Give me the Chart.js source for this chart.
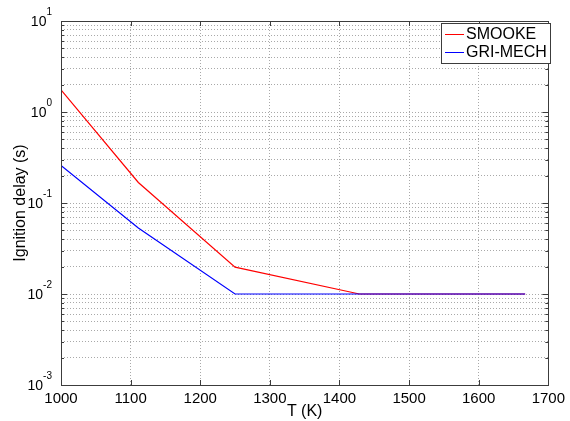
<!DOCTYPE html>
<html>
<head>
<meta charset="utf-8">
<title>Ignition delay</title>
<script src="https://cdn.jsdelivr.net/npm/chart.js@4.4.1/dist/chart.umd.min.js"></script>
<style>
  html, body { margin: 0; padding: 0; background: #fff; }
  #wrap { width: 570px; height: 421px; position: relative; }
</style>
</head>
<body>
<div id="wrap"><canvas id="chart"></canvas></div>
<script>
// temperatures (K) and ignition delays (s)
const temperatures = [1000, 1111.1, 1250, 1428.6, 1666.7];
const smookeDelay = [1.75, 0.168, 0.0197, 0.01, 0.01];
const griMechDelay = [0.258, 0.053, 0.01, 0.01, 0.01];

const xTicks = [1000, 1100, 1200, 1300, 1400, 1500, 1600, 1700];
const yDecades = [-3, -2, -1, 0, 1];

const FONT = "'Liberation Sans', Arial, sans-serif";
const AXIS_COLOR = '#3c3c3c';
const GRID_COLOR = '#a9a9a9';

const toPoints = (xs, ys) => xs.map((x, i) => ({ x: x, y: ys[i] }));

// 1..9 x 10^n grid for the log axis
function logTicks() {
    const ticks = [];
    for (let i = 0; i < yDecades.length; i++) {
        const e = yDecades[i];
        const base = Math.pow(10, e);
        ticks.push({ value: base, major: true, exp: e });
        if (i === yDecades.length - 1) break;
        for (let m = 2; m <= 9; m++) {
            ticks.push({ value: m * base, major: false });
        }
    }
    return ticks;
}

// axes box, inner tick marks, 10^n labels and legend box
const matlabFrame = {
    id: 'matlabFrame',
    afterDraw(chart) {
        const { ctx, chartArea: a, scales: { x, y } } = chart;
        ctx.save();
        ctx.strokeStyle = AXIS_COLOR;
        ctx.lineWidth = 1;
        ctx.setLineDash([]);

        ctx.beginPath();
        y.ticks.forEach(t => {
            const py = Math.round(y.getPixelForValue(t.value)) + 0.5;
            const len = t.major ? 6 : 3;
            ctx.moveTo(a.left, py); ctx.lineTo(a.left + len, py);
            ctx.moveTo(a.right, py); ctx.lineTo(a.right - len, py);
        });
        x.ticks.forEach(t => {
            const px = Math.round(x.getPixelForValue(t.value)) + 0.5;
            ctx.moveTo(px, a.bottom); ctx.lineTo(px, a.bottom - 5);
            ctx.moveTo(px, a.top); ctx.lineTo(px, a.top + 5);
        });
        ctx.stroke();

        ctx.strokeRect(Math.round(a.left) + 0.5, Math.round(a.top) + 0.5,
            Math.round(a.right - a.left), Math.round(a.bottom - a.top));

        // y labels as 10 with a raised exponent
        ctx.fillStyle = '#000';
        ctx.textAlign = 'right';
        ctx.textBaseline = 'middle';
        const labelRight = a.left - 9;
        y.ticks.filter(t => t.major).forEach(t => {
            const py = y.getPixelForValue(t.value);
            const exp = String(t.exp);
            ctx.font = '10px ' + FONT;
            const expW = ctx.measureText(exp).width;
            ctx.fillText(exp, labelRight, py - 9);
            ctx.font = '14px ' + FONT;
            ctx.fillText('10', labelRight - expW, py + 1);
        });

        // legend
        const box = { left: 441, top: 23, right: 550, bottom: 63 };
        ctx.fillStyle = '#fff';
        ctx.fillRect(box.left, box.top, box.right - box.left, box.bottom - box.top);
        ctx.strokeStyle = AXIS_COLOR;
        ctx.strokeRect(box.left + 0.5, box.top + 0.5, box.right - box.left, box.bottom - box.top);
        const rows = [chart.data.datasets[1], chart.data.datasets[0]];
        ctx.textAlign = 'left';
        ctx.font = '16px ' + FONT;
        rows.forEach((ds, i) => {
            const ly = 34.5 + i * 18;
            ctx.strokeStyle = ds.borderColor;
            ctx.beginPath();
            ctx.moveTo(445, ly); ctx.lineTo(464, ly);
            ctx.stroke();
            ctx.fillStyle = '#000';
            ctx.fillText(ds.label, 466, ly);
        });
        ctx.restore();
    }
};

new Chart(document.getElementById('chart'), {
    type: 'line',
    data: {
        datasets: [
            {
                label: 'GRI-MECH',
                data: toPoints(temperatures, griMechDelay),
                borderColor: '#0000ff',
                borderWidth: 1.2,
                pointRadius: 0,
                fill: false,
                tension: 0,
                order: 0
            },
            {
                label: 'SMOOKE',
                data: toPoints(temperatures, smookeDelay),
                borderColor: '#ff0000',
                borderWidth: 1.2,
                pointRadius: 0,
                fill: false,
                tension: 0,
                order: 1
            }
        ]
    },
    options: {
        responsive: true,
        maintainAspectRatio: false,
        animation: false,
        devicePixelRatio: 1,
        layout: { padding: { left: 0, top: 21, right: 16, bottom: 0 } },
        plugins: {
            legend: { display: false },
            tooltip: { enabled: false }
        },
        scales: {
            x: {
                type: 'linear',
                min: 1000,
                max: 1700,
                afterBuildTicks: scale => {
                    scale.ticks = xTicks.map(v => ({ value: v }));
                },
                afterFit: scale => { scale.height = 36; },
                grid: { color: GRID_COLOR, lineWidth: 1, drawTicks: false },
                border: { display: false, dash: [1, 2] },
                ticks: {
                    color: '#000',
                    padding: 5,
                    maxRotation: 0,
                    font: { family: FONT, size: 15 },
                    callback: value => String(value)
                },
                title: {
                    display: true,
                    text: 'T (K)',
                    color: '#000',
                    font: { family: FONT, size: 16, lineHeight: 1.2 },
                    padding: { top: 0, bottom: 0 }
                }
            },
            y: {
                type: 'logarithmic',
                min: 0.001,
                max: 10,
                afterBuildTicks: scale => { scale.ticks = logTicks(); },
                afterFit: scale => { scale.width = 61; },
                grid: { color: GRID_COLOR, lineWidth: 1, drawTicks: false },
                border: { display: false, dash: [1, 2] },
                ticks: { display: false },
                title: {
                    display: true,
                    text: 'Ignition delay (s)',
                    color: '#000',
                    font: { family: FONT, size: 16, lineHeight: 1.2 },
                    padding: { top: 11, bottom: 0 }
                }
            }
        }
    },
    plugins: [matlabFrame]
});
</script>
</body>
</html>
